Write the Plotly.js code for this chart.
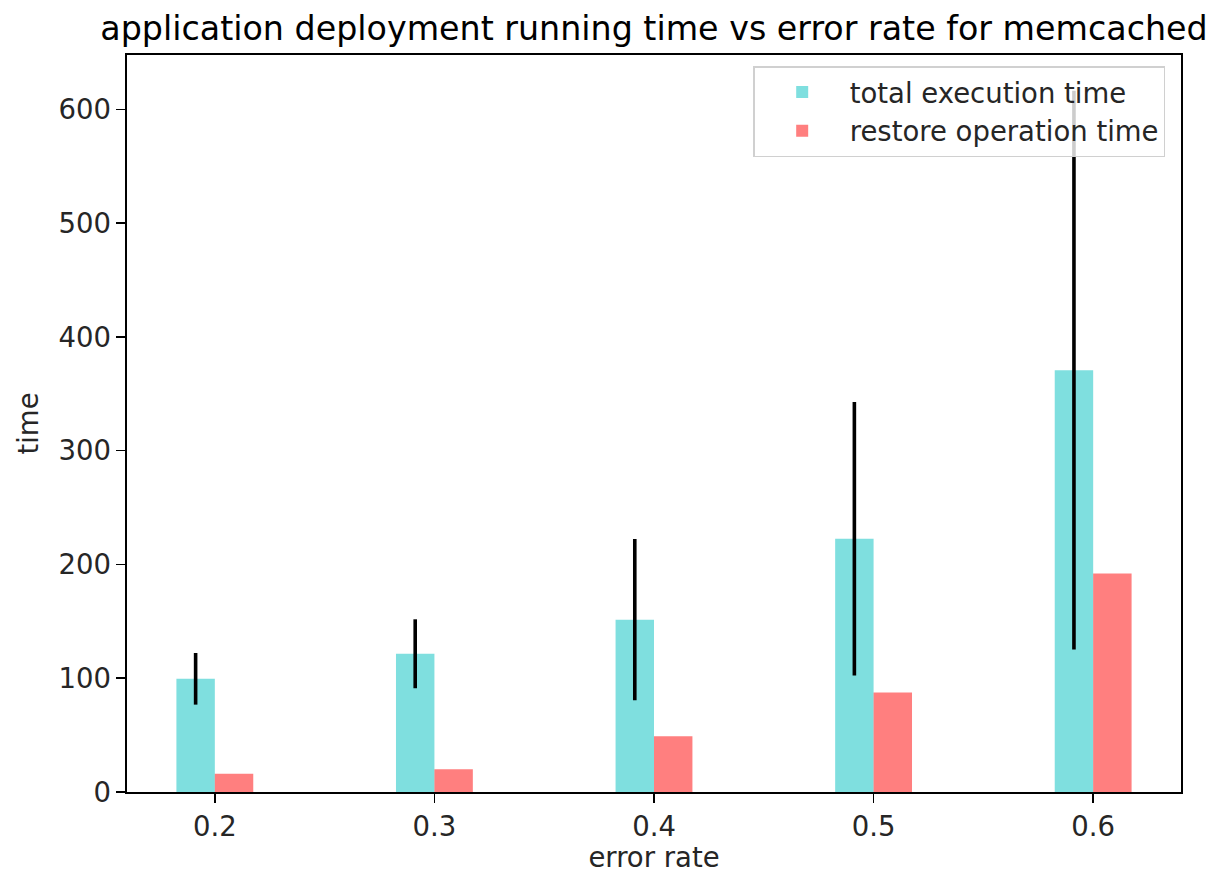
<!DOCTYPE html>
<html>
<head>
<meta charset="utf-8">
<script src="https://cdn.plot.ly/plotly-3.0.1.min.js"></script>
<style>html,body{margin:0;padding:0;background:#fff;}#chart{width:1218px;height:873px;}</style>
</head>
<body>
<div id="chart"></div>
<script>
var categories = ["0.2", "0.3", "0.4", "0.5", "0.6"];
var totalTime = [99.5, 121.5, 151.5, 222.5, 370.8];
var totalErr = [22.7, 30.3, 70.8, 120.2, 245.5];
var restoreTime = [16, 20, 49, 87.5, 192];

var idx = categories.map(function(_, i){ return i; });
var FONT = "DejaVu Sans, Liberation Sans, sans-serif";
var FS = 27.5;

var traces = [
  {
    type: "bar", name: "total execution time",
    x: idx, y: totalTime,
    offset: -0.175, width: 0.175,
    marker: {color: "rgba(0,191,191,0.5)", line: {width: 0}},
    error_y: {type: "data", array: totalErr, symmetric: true, visible: true, color: "#000000", thickness: 3.6, width: 0}
  },
  {
    type: "bar", name: "restore operation time",
    x: idx, y: restoreTime,
    offset: 0, width: 0.175,
    marker: {color: "rgba(255,0,0,0.5)", line: {width: 0}}
  }
];

var layout = {
  width: 1218, height: 873,
  paper_bgcolor: "#ffffff", plot_bgcolor: "#ffffff",
  margin: {l: 127, r: 37, t: 55, b: 81, pad: 0},
  barmode: "overlay",
  showlegend: true,
  font: {family: FONT, size: FS, color: "#1a1a1a"},
  title: {text: "application deployment running time vs error rate for memcached",
          font: {family: FONT, size: 33.3, color: "#000000"},
          x: 0.5, xref: "paper", xanchor: "center", y: 0.967, yanchor: "middle"},
  xaxis: {
    range: [-0.4, 4.4],
    tickmode: "array", tickvals: idx, ticktext: categories,
    showgrid: false, zeroline: false,
    showline: true, linecolor: "#000000", linewidth: 1.6, mirror: true,
    ticks: "outside", ticklen: 9, tickwidth: 1.6, tickcolor: "#000000",
    tickfont: {family: FONT, size: FS, color: "#262626"},
    title: {text: "error rate", font: {family: FONT, size: FS, color: "#262626"}, standoff: 8}
  },
  yaxis: {
    range: [0, 647.8],
    tickmode: "array", tickvals: [0, 100, 200, 300, 400, 500, 600],
    showgrid: false, zeroline: false,
    showline: true, linecolor: "#000000", linewidth: 1.6, mirror: true,
    ticks: "outside", ticklen: 9, tickwidth: 1.6, tickcolor: "#000000",
    tickfont: {family: FONT, size: FS, color: "#262626"},
    title: {text: "time", font: {family: FONT, size: FS, color: "#262626"}, standoff: 12}
  },
  legend: {
    x: 0.985, y: 0.985, xanchor: "right", yanchor: "top",
    bgcolor: "rgba(255,255,255,0.8)", bordercolor: "#d0d0d0", borderwidth: 1.5,
    font: {family: FONT, size: FS, color: "#262626"},
    itemwidth: 85, tracegroupgap: 6
  }
};

Plotly.newPlot("chart", traces, layout, {staticPlot: true, displayModeBar: false});
</script>
</body>
</html>
